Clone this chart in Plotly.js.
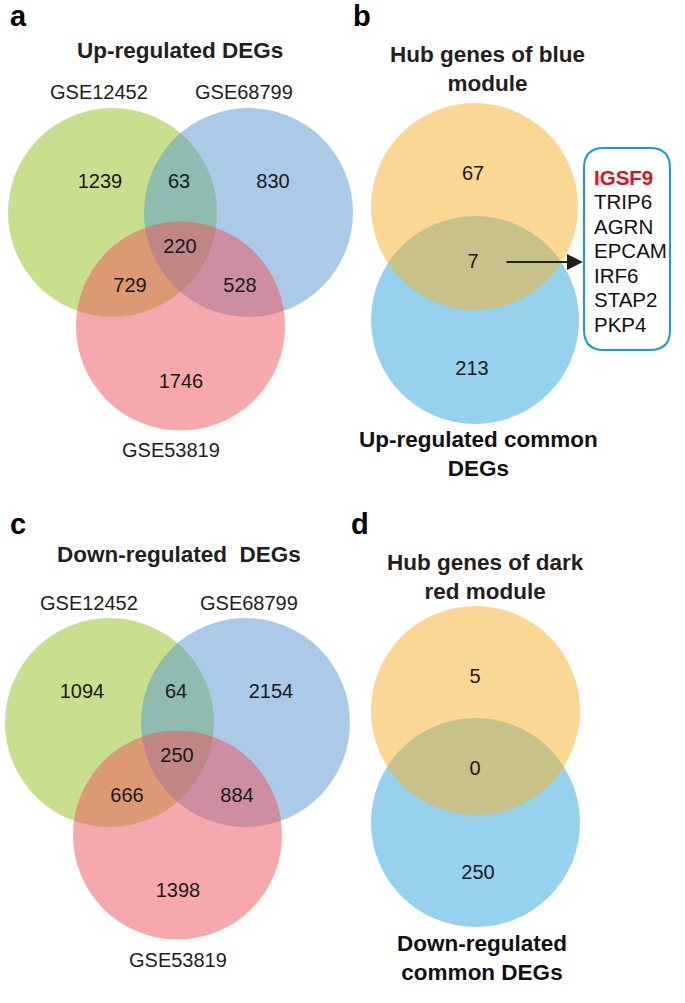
<!DOCTYPE html>
<html><head><meta charset="utf-8">
<script src="https://cdn.plot.ly/plotly-3.0.1.min.js"></script>
<style>html,body{margin:0;padding:0;background:#fff;overflow:hidden}</style>
</head><body><div id="chart" style="width:685px;height:1003px"></div>
<script>
// ---- data ----
const setNames = ['GSE12452', 'GSE68799', 'GSE53819'];
// order: A only, A∩B, B only, A∩B∩C, A∩C, B∩C, C only
const upCounts = [1239, 63, 830, 220, 729, 528, 1746];
const downCounts = [1094, 64, 2154, 250, 666, 884, 1398];
// order: hub only, overlap, common DEGs only
const hubBlueCounts = [67, 7, 213];
const hubDarkRedCounts = [5, 0, 250];
const hubGenes = ['IGSF9', 'TRIP6', 'AGRN', 'EPCAM', 'IRF6', 'STAP2', 'PKP4'];
const panelLetters = ['a', 'b', 'c', 'd'];
const panelTitles = ['Up-regulated DEGs', 'Hub genes of blue<br>module', 'Down-regulated\u00a0\u00a0DEGs', 'Hub genes of dark<br>red module'];
const bottomTitles = ['Up-regulated common<br>DEGs', 'Down-regulated<br>common DEGs'];

// ---- layout geometry (pixels) ----
const FONT = 'Liberation Sans, Arial, Helvetica, sans-serif';
const INK = '#231f20';
const upPos = [[100,183],[179,183],[273,183],[180,248],[130,287],[240,287],[181,383]];
const downPos = [[82,693],[176,693],[271,693],[177,757],[127,797],[237,797],[178,892]];
const hubBluePos = [[473,175],[473,263],[472,370]];
const hubDarkPos = [[475,678],[475,770],[478,874]];
const upSetPos = [[99,92],[244,92],[171,450]];
const downSetPos = [[89,603],[249,603],[178,960]];

const GREEN = 'rgb(145,193,29)', BLUE3 = 'rgb(85,149,209)', RED = 'rgb(239,81,89)';
const ORANGE = 'rgb(245,178,40)', SKY = 'rgb(45,165,220)';
const circles = [
  [112.5,212.5,104.5,GREEN],[248.5,212.5,104.5,BLUE3],[180.5,326,104.5,RED],
  [475,320,104,SKY],[474.5,206.5,103.5,ORANGE],
  [109.5,722.5,104.5,GREEN],[245.5,722.5,104.5,BLUE3],[177.5,835,104.5,RED],
  [475.5,822.5,104.5,SKY],[475.5,710.5,104.5,ORANGE]
];

const shapes = circles.map(c => ({
  type: 'circle', xref: 'x', yref: 'y', layer: 'below',
  x0: c[0]-c[2], x1: c[0]+c[2], y0: c[1]-c[2], y1: c[1]+c[2],
  fillcolor: c[3], opacity: 0.5, line: {width: 0}
}));
// rounded gene box
(function(){
  const x0=584, x1=670, y0=148, y1=350, r=20;
  shapes.push({type:'path', xref:'x', yref:'y', layer:'above',
    path:`M ${x0+r},${y0} L ${x1-r},${y0} Q ${x1},${y0} ${x1},${y0+r} L ${x1},${y1-r} Q ${x1},${y1} ${x1-r},${y1} L ${x0+r},${y1} Q ${x0},${y1} ${x0},${y1-r} L ${x0},${y0+r} Q ${x0},${y0} ${x0+r},${y0} Z`,
    line:{color:'#1a9bd7', width:2}, fillcolor:'rgba(255,255,255,0)'});
})();

function countTrace(counts, pos){
  return {type:'scatter', mode:'text', x: pos.map(p=>p[0]), y: pos.map(p=>p[1]),
    text: counts.map(String), textposition:'middle center',
    textfont:{family:FONT, size:20, color:'#1a1a1a'}, hoverinfo:'skip', showlegend:false};
}
const traces = [
  countTrace(upCounts, upPos), countTrace(downCounts, downPos),
  countTrace(hubBlueCounts, hubBluePos), countTrace(hubDarkRedCounts, hubDarkPos)
];

const ann = [];
function txt(x, y, text, size, bold, opts){
  ann.push(Object.assign({x, y, xref:'x', yref:'y', text: bold ? '<b>'+text+'</b>' : text,
    showarrow:false, xanchor:'center', yanchor:'middle',
    font:{family:FONT, size, color:INK}}, opts||{}));
}
// panel letters
const letterPos = [[8,16],[351,16],[8,524],[349,524]];
panelLetters.forEach((l,i)=>txt(letterPos[i][0], letterPos[i][1], l, 29, true, {xanchor:'left', font:{family:FONT,size:29,color:'#000'}}));
// titles
const titlePos = [[180,50],[487,69],[179,554],[485,577]];
panelTitles.forEach((t,i)=>txt(titlePos[i][0], titlePos[i][1], t, 22.5, true));
const bottomPos = [[478,454],[482,958]];
bottomTitles.forEach((t,i)=>txt(bottomPos[i][0], bottomPos[i][1], t, 22.5, true, {font:{family:FONT,size:22.5,color:'#111'}}));
// set labels
setNames.forEach((s,i)=>{ txt(upSetPos[i][0], upSetPos[i][1], s, 20, false); txt(downSetPos[i][0], downSetPos[i][1], s, 20, false); });
// gene list
hubGenes.forEach((g,i)=>{
  const y = 177 + i*24.5;
  if (i===0) txt(592, y, g, 20.5, true, {xanchor:'left', font:{family:FONT,size:20.5,color:'#e3101e'}});
  else txt(592, y, g, 20.5, false, {xanchor:'left', font:{family:FONT,size:20.5,color:'#111'}});
});
// arrow
ann.push({x:583, y:262, ax:505, ay:262, xref:'x', yref:'y', axref:'x', ayref:'y', text:'',
  showarrow:true, arrowhead:2, arrowsize:1.6, arrowwidth:2, arrowcolor:INK});

const layout = {
  width:685, height:1003, margin:{l:0,r:0,t:0,b:0,pad:0},
  paper_bgcolor:'#fff', plot_bgcolor:'#fff',
  xaxis:{range:[0,685], visible:false, fixedrange:true},
  yaxis:{range:[1003,0], visible:false, fixedrange:true},
  shapes, annotations: ann, showlegend:false
};
Plotly.newPlot('chart', traces, layout, {staticPlot:true, displayModeBar:false});
</script>
</body></html>
